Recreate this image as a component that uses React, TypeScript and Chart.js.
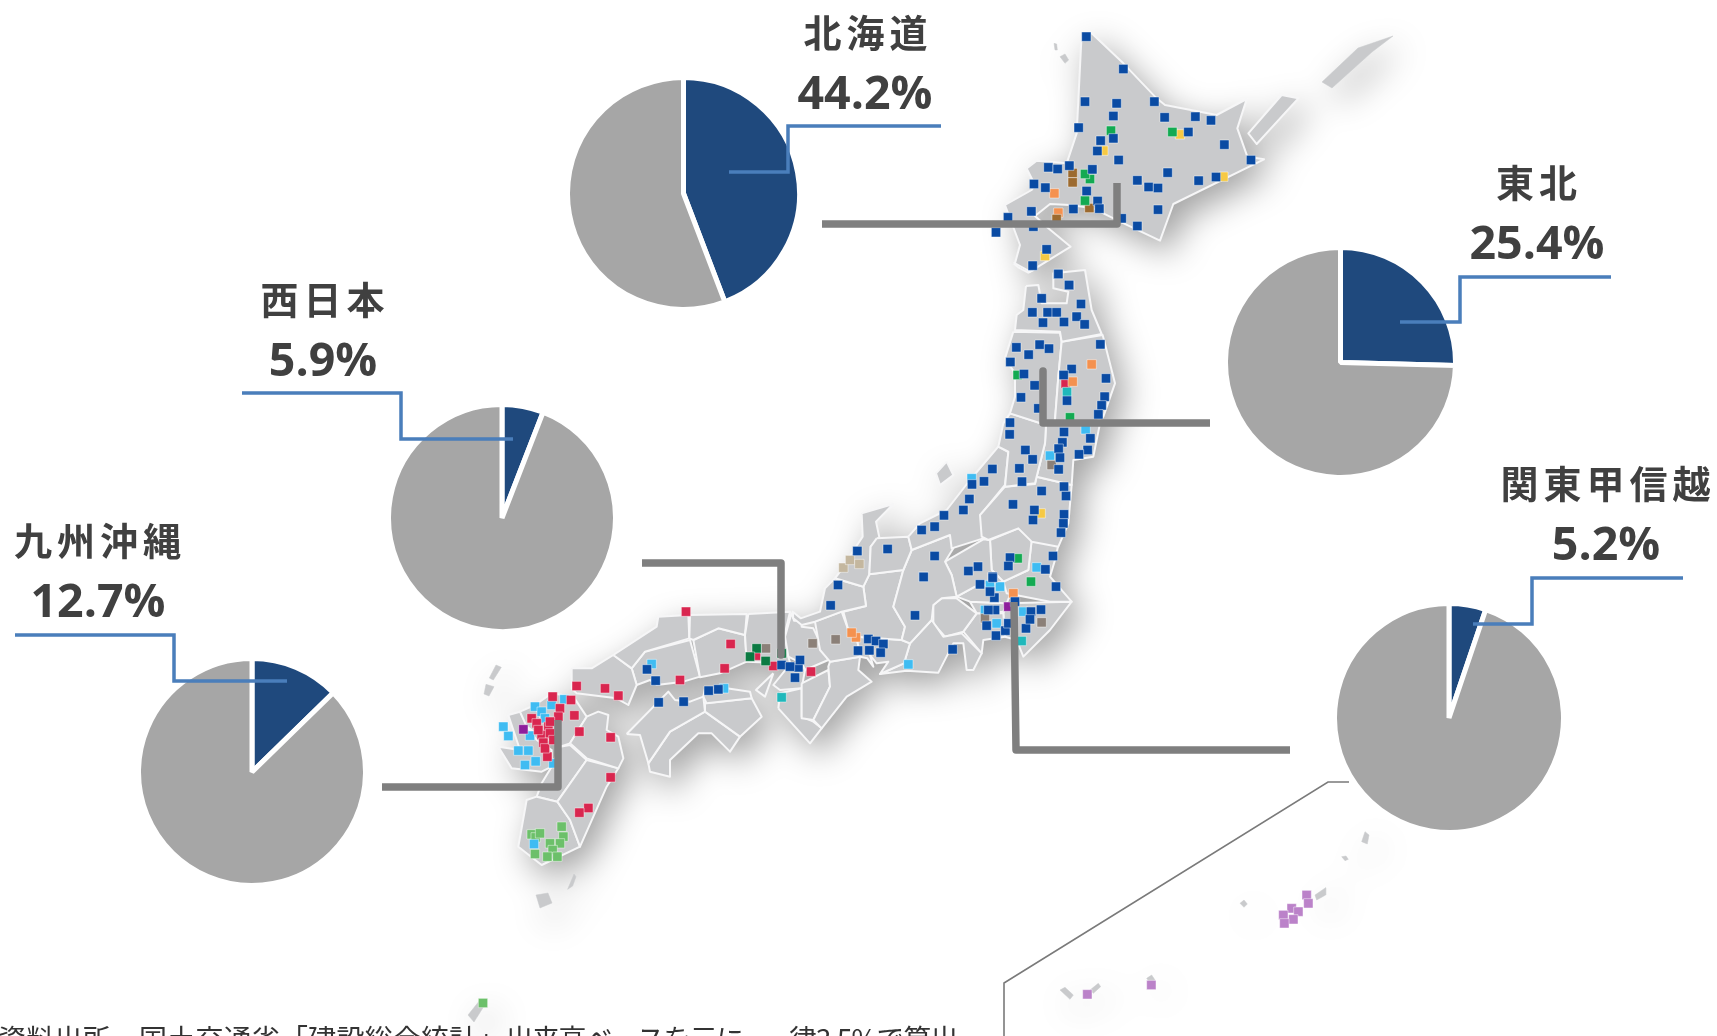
import React, { useEffect, useRef } from "react";
import { Chart, registerables } from "chart.js";
Chart.register(...registerables);

type P = [number, number];
const W = 1717, H = 1036;

// Pie data
const pieLabels = ["対象", "その他"];
const pieNames = ["北海道", "東北", "西日本", "九州沖縄", "関東甲信越"];
const pieShares = [44.2, 25.4, 5.9, 12.7, 5.2];
const pieCenters: P[] = [[683, 193], [1340, 362], [501.5, 518], [252, 771.5], [1449, 718]];
const pieHalfSizes = [118.5, 117.5, 116, 116, 117];
const labelSpots: P[] = [[868, 31], [1539, 181], [325, 298], [100, 539], [1608, 482]];
const valueSpots: P[] = [[865, 91], [1537, 241], [323, 358], [98, 599], [1606, 542]];
const footParts: [string, number][] = [
  ["資料出所　国土交通省「建設総合統計」", 0.2],
  ["出来高ベースを元に", -1.5],
  ["、", -9],
  ["一律3.5%で算出", -1],
];

const crop = (ox: number, oy: number, pts: P[]) => pts.map(([x, y]) => ({ x: ox + x / 3, y: oy + y / 3 }));
const A = (p: P[]) => crop(960, 0, p);
const B = (p: P[]) => crop(920, 260, p);
const C = (p: P[]) => crop(780, 480, p);
const D = (p: P[]) => crop(470, 590, p);
const E = (p: P[]) => crop(730, 590, p);
const F = (p: P[]) => crop(980, 760, p);
const Z = (p: P[]) => p.map(([x, y]) => ({ x, y }));

const regions = [
  A([[365,100],[395,100],[490,190],[590,295],[615,315],[770,345],[860,297],[832,385],[862,470],[912,478],[640,612],[600,722],[480,665],[400,625],[330,615],[270,612],[225,648],[265,685],[332,740],[210,815],[165,790],[180,735],[135,615],[215,570],[225,555],[200,505],[230,482],[320,490],[350,400]]),
  A([[965,285],[1015,295],[890,432],[865,400]]),
  B([[318,78],[355,75],[365,130],[440,130],[445,95],[400,85],[400,40],[495,30],[515,150],[545,222],[425,245],[420,215],[285,210],[290,165],[310,150]]),
  B([[280,10],[325,2],[340,30],[325,38],[295,22]]),
  B([[425,245],[548,225],[585,370],[550,470],[520,490],[378,495],[405,480],[415,350]]),
  B([[280,215],[420,218],[425,245],[415,350],[405,480],[378,495],[270,460],[285,410],[285,340],[255,295]]),
  B([[270,460],[378,495],[375,550],[345,670],[255,680],[265,575],[235,560],[250,490]]),
  B([[378,495],[540,490],[520,590],[460,600],[455,675],[350,650],[375,550]]),
  B([[255,680],[345,672],[350,650],[455,675],[445,790],[415,860],[335,845],[295,805],[205,840],[185,830],[180,765]]),
  B([[80,605],[100,645],[60,675],[48,640]]),
  C([[385,170],[420,130],[500,90],[570,0],[655,-100],[685,-84],[675,15],[605,100],[610,175],[515,205],[510,165],[395,210]]),
  C([[290,175],[385,170],[395,210],[370,270],[268,283],[272,200]]),
  C([[245,100],[340,72],[288,125],[298,172],[272,200],[268,283],[250,320],[165,295],[180,275],[225,205],[248,170]]),
  C([[165,295],[250,320],[258,378],[185,395],[105,425],[65,435],[40,415],[38,395],[62,415],[120,395],[135,325]]),
  C([[395,210],[510,165],[520,205],[495,245],[515,285],[530,350],[485,355],[460,375],[455,420],[390,490],[365,480],[375,440],[340,380],[370,270]]),
  C([[268,283],[370,270],[340,380],[375,440],[365,480],[230,470],[205,450],[190,395],[258,378],[250,320]]),
  C([[230,470],[365,480],[390,490],[372,550],[300,582],[325,545],[290,550],[270,525],[280,560],[262,535],[240,530]]),
  C([[390,490],[455,420],[490,470],[545,460],[605,520],[580,570],[560,570],[550,490],[520,490],[475,578],[380,572],[300,582],[372,550]]),
  C([[460,375],[485,355],[530,355],[590,400],[550,455],[495,470],[460,430]]),
  C([[495,245],[610,178],[630,180],[635,270],[670,305],[585,320],[530,350],[515,285]]),
  C([[630,180],[715,145],[755,180],[745,270],[670,305],[635,270]]),
  C([[755,180],[835,195],[825,240],[810,290],[875,365],[810,365],[680,340],[670,305],[745,270]]),
  C([[530,350],[585,320],[670,305],[690,345],[680,370],[570,365]]),
  C([[570,365],[680,370],[670,395],[610,400],[590,400]]),
  C([[590,400],[670,400],[675,470],[610,480],[605,520],[550,455]]),
  C([[680,370],[875,365],[810,450],[730,530],[710,480],[675,470],[670,400]]),
  C([[105,425],[185,395],[205,450],[230,470],[240,530],[150,545],[120,510]]),
  C([[135,470],[175,420],[165,510],[150,535]]),
  C([[240,530],[235,570],[275,605],[200,650],[125,745],[100,720],[150,620],[145,560],[150,545]]),
  C([[65,610],[145,570],[150,620],[100,720],[65,715]]),
  E([[145,355],[150,310],[215,295],[215,380],[250,395],[275,415],[240,460]]),
  E([[170,235],[215,220],[225,240],[215,295],[150,300],[130,285]]),
  E([[185,68],[192,92],[215,92],[215,110],[250,115],[295,210],[225,240],[215,220],[175,200],[165,140]]),
  E([[130,250],[105,320],[78,300]]),
  D([[835,72],[960,65],[945,130],[955,200],[965,235],[910,218],[830,215],[825,135]]),
  D([[660,75],[830,72],[825,135],[745,115],[670,150],[658,145]]),
  D([[670,150],[745,115],[825,135],[830,215],[750,250],[690,262]]),
  D([[430,195],[560,110],[565,80],[655,75],[658,145],[525,185],[485,235]]),
  D([[305,235],[365,235],[430,195],[485,235],[500,285],[475,345],[440,325],[320,310],[305,295]]),
  D([[485,235],[525,185],[660,150],[690,260],[640,275],[560,285],[540,270],[500,285]]),
  D([[470,432],[595,305],[615,330],[660,335],[700,320],[705,365],[600,425],[535,520],[510,435]]),
  D([[700,320],[705,295],[770,295],[840,305],[845,325],[710,340]]),
  D([[705,340],[845,325],[875,380],[810,440],[705,365]]),
  D([[535,520],[600,425],[705,365],[810,440],[780,485],[725,430],[685,430],[600,510],[600,560],[540,545]]),
  D([[300,460],[350,380],[385,365],[415,375],[410,420],[445,440],[460,505],[445,535],[350,505]]),
  D([[350,510],[445,535],[410,590],[330,770],[300,690],[262,635]]),
  D([[262,635],[300,690],[330,770],[215,825],[145,770],[170,630],[200,620]]),
  D([[300,465],[350,510],[262,635],[200,620],[215,580],[245,530],[270,470]]),
  D([[195,345],[245,310],[310,320],[350,380],[300,460],[270,470],[245,430],[210,380]]),
  D([[150,365],[195,345],[210,380],[245,430],[270,470],[200,430],[170,410]]),
  D([[115,375],[150,365],[175,415],[200,450],[245,480],[245,530],[215,545],[125,535],[85,470],[150,480]]),
];

const islets = [
  Z([[1322,82],[1358,48],[1393,36],[1372,52],[1332,88]]),
  A([[300,170],[315,162],[326,180],[315,190]]),
  A([[282,130],[290,132],[292,150],[285,150]]),
  D([[78,225],[94,232],[70,270],[58,264]]),
  D([[48,283],[72,290],[57,318],[42,312]]),
  D([[293,898],[312,852],[318,860],[308,888]]),
  Z([[536,895],[548,893],[552,903],[540,908]]),
  Z([[468,1015],[480,1000],[486,1003],[474,1022]]),
  F([[1005,405],[1037,383],[1037,405],[1010,420]]),
  F([[240,690],[255,682],[280,705],[270,718]]),
  F([[330,690],[355,670],[362,680],[340,700]]),
  F([[500,655],[515,645],[525,660],[510,668]]),
  F([[1145,245],[1155,215],[1167,225],[1162,252]]),
  F([[1085,290],[1098,288],[1105,298],[1095,302]]),
  F([[780,430],[792,420],[802,432],[792,442]]),
];

// Company markers, by colour
const bluePts = [
  ...A([[379,110],[490,207],[375,305],[470,310],[583,305],[460,348],[614,352],[706,350],[753,361],[356,383],[685,396],[422,422],[460,415],[793,434],[412,453],[476,480],[873,480],[265,502],[293,507],[328,497],[397,508],[623,518],[768,531],[532,541],[716,542],[222,552],[256,563],[566,561],[594,564],[380,573],[413,603],[340,627],[418,626],[214,634],[594,629],[144,652],[485,655],[532,678],[220,680],[108,697],[260,748],[218,797],[295,822],[328,856]]),
  ...B([[415,42],[447,75],[365,115],[483,132],[337,157],[383,157],[410,157],[470,170],[369,188],[432,186],[494,193],[541,253],[289,262],[359,254],[387,266],[326,284],[271,306],[455,327],[431,345],[312,342],[558,355],[344,376],[554,410],[303,412],[441,422],[545,436],[355,445],[535,463],[270,488],[432,516],[269,523],[427,547],[511,535],[316,570],[416,566],[503,570],[477,583],[420,593],[338,598],[298,625],[416,628],[217,627],[192,664],[156,673],[306,665],[432,680],[365,693],[438,708],[148,717],[279,733],[343,750],[130,750],[432,763],[72,766],[339,780],[430,790],[44,800],[5,810],[423,818],[44,888],[399,888],[270,893],[265,918],[145,933],[174,920],[376,928],[218,950],[10,950]]),
  ...C([[232,213],[323,207],[174,315],[152,376],[431,291],[405,406],[265,477],[288,483],[310,492],[234,512],[268,511],[302,518],[518,508],[638,293],[600,313],[643,353],[630,335],[645,390],[625,390],[620,437],[648,467],[676,452],[738,445],[753,395],[783,389],[750,418],[685,430],[705,365],[828,320],[5,555],[55,562],[45,593],[60,540],[30,560]]),
  ...D([[531,238],[557,272],[566,337],[641,335],[716,302],[745,298]]),
];
const redPts = [
  ...D([[648,65],[782,162],[858,197],[764,235],[630,270],[320,288],[405,295],[445,317],[248,320],[303,330],[270,355],[313,376],[265,380],[185,385],[200,400],[235,410],[215,435],[240,430],[328,425],[422,442],[220,458],[232,500],[422,562],[355,654],[328,668],[910,228],[240,395],[205,420],[225,475],[250,450]]),
  ...C([[93,575]]),
  ...B([[437,371]]),
];
const cyanPts = [
  ...D([[283,328],[195,350],[215,365],[245,345],[225,385],[100,410],[115,438],[180,437],[145,482],[175,482],[197,514],[165,525],[250,520],[192,762],[545,222],[762,295]]),
  ...C([[385,553],[650,430],[630,315],[660,320],[615,390],[730,395]]),
  ...B([[390,587],[155,655],[497,508],[350,922]]),
];
const greenPts = [
  ...A([[453,392],[637,396],[390,537],[375,522],[375,602]]),
  ...B([[450,472],[293,345],[293,895]]),
  ...C([[753,305]]),
];
const darkGreenPts = D([[860,175],[935,190],[840,200],[887,213]]);
const limePts = [
  ...D([[275,710],[185,733],[197,742],[280,740],[240,760],[270,760],[248,780],[195,792],[232,800],[262,800],[210,730]]),
  ...Z([[483,1003]]),
];
const orangePts = [
  ...A([[283,580],[295,638]]),
  ...B([[515,313],[458,365]]),
  ...C([[700,340],[228,472],[215,458]]),
];
const brownPts = A([[338,519],[338,547],[388,624],[290,657]]);
const yellowPts = [...A([[430,452],[660,403],[790,530],[255,768]]), ...B([[362,760]])];
const tanPts = C([[190,263],[210,240],[238,252]]);
const grayPts = [...C([[98,490],[167,478],[785,427],[615,415]]), ...D([[888,175]]), ...B([[395,615]])];
const tealPts = [...C([[725,483],[5,652]]), ...B([[441,396]])];
const purplePts = [...C([[685,380]]), ...D([[160,418]])];
const mauvePts = F([[980,405],[985,430],[935,445],[955,455],[910,465],[940,478],[913,490],[322,703],[514,675]]);

const markerGroups: [any[], string][] = [
  [limePts, "#6cc06a"], [mauvePts, "#bb82c9"], [cyanPts, "#3fbcf2"], [redPts, "#d9264f"],
  [tanPts, "#c4b79f"], [grayPts, "#8b8078"], [yellowPts, "#f6c944"], [orangePts, "#f4914f"],
  [brownPts, "#9c6a2f"], [tealPts, "#1fb8bb"], [purplePts, "#8e1f9c"], [greenPts, "#13aa52"],
  [darkGreenPts, "#0b7a42"], [bluePts, "#0a4ba3"],
];

// Connector and leader lines
const connectors: P[][] = [
  [[822, 224], [1117, 224], [1117, 183]],
  [[1043, 371], [1043, 423], [1210, 423]],
  [[642, 563], [781, 563], [781, 655]],
  [[1014, 602], [1016, 750], [1290, 750]],
  [[382, 787], [558, 787], [558, 720]],
];
const leaders: P[][] = [
  [[941, 126], [788, 126], [788, 172], [729, 172]],
  [[1611, 277], [1460, 277], [1460, 322], [1400, 322]],
  [[242, 393], [401, 393], [401, 439], [513, 439]],
  [[15, 635], [174, 635], [174, 681], [287, 681]],
  [[1683, 578], [1532, 578], [1532, 624], [1473, 624]],
];
const insetFrame: P[] = [[1349, 782], [1328, 782], [1004, 983], [1004, 1036]];

const xy = (p: P[]) => p.map(([x, y]) => ({ x, y }));
const pageScales = {
  x: { type: "linear", min: 0, max: W, display: false },
  y: { type: "linear", min: 0, max: H, reverse: true, display: false },
};
const baseOptions: any = {
  animation: false, responsive: false, devicePixelRatio: 1,
  layout: { padding: 0, autoPadding: false }, scales: pageScales,
  plugins: { legend: { display: false }, tooltip: { enabled: false } },
  events: [],
};

function App() {
  const mapRef = useRef<HTMLCanvasElement>(null);
  const markRef = useRef<HTMLCanvasElement>(null);
  const pieRefs = useRef<(HTMLCanvasElement | null)[]>([]);
  useEffect(() => {
    const charts: Chart[] = [];
    charts.push(new Chart(mapRef.current!, {
      type: "scatter",
      data: {
        datasets: [
          ...regions.map((pts) => ({
            data: [...pts, pts[0]], showLine: true, fill: "shape", tension: 0,
            backgroundColor: "#c9cacc", borderColor: "#f6f6f7", borderWidth: 2,
            borderJoinStyle: "round", pointRadius: 0, clip: false,
          })),
          ...islets.map((pts) => ({
            data: [...pts, pts[0]], showLine: true, fill: "shape", tension: 0,
            backgroundColor: "#c9cacc", borderColor: "#c9cacc", borderWidth: 0.5,
            pointRadius: 0, clip: false,
          })),
        ],
      } as any,
      options: baseOptions,
    }));
    charts.push(new Chart(markRef.current!, {
      type: "scatter",
      data: {
        datasets: [
          ...leaders.map((l) => ({
            data: xy(l), showLine: true, borderColor: "#4a7ebb", borderWidth: 3.5,
            pointRadius: 0, tension: 0, borderJoinStyle: "miter", order: 0,
          })),
          ...connectors.map((l) => ({
            data: xy(l), showLine: true, borderColor: "#7f7f7f", borderWidth: 7.5,
            pointRadius: 0, tension: 0, borderJoinStyle: "round", order: 1,
          })),
          {
            data: xy(insetFrame), showLine: true, borderColor: "#7a7a7a", borderWidth: 1.6,
            pointRadius: 0, tension: 0, order: 2,
          },
          ...markerGroups.map(([pts, color], i) => ({
            data: pts, showLine: false, pointStyle: "rect", pointRadius: 6.6, pointBorderWidth: 1,
            pointBackgroundColor: color, pointBorderColor: "rgba(255,255,255,0.45)",
            order: 3 + markerGroups.length - i,
          })),
        ],
      } as any,
      options: baseOptions,
    }));
    pieShares.forEach((share, i) => {
      charts.push(new Chart(pieRefs.current[i]!, {
        type: "pie",
        data: {
          labels: pieLabels,
          datasets: [{
            data: [share, 100 - share], backgroundColor: ["#1f497d", "#a6a6a6"],
            borderColor: "#ffffff", borderWidth: 5, hoverOffset: 0,
          }],
        },
        options: {
          animation: false, responsive: false, devicePixelRatio: 1, layout: { padding: 0 },
          plugins: { legend: { display: false }, tooltip: { enabled: false } }, events: [],
        },
      }));
    });
    return () => charts.forEach((c) => c.destroy());
  }, []);

  const layer: React.CSSProperties = { position: "absolute", left: 0, top: 0 };
  const textBase: React.CSSProperties = {
    position: "absolute", transform: "translate(-50%,-50%)", color: "#404040", whiteSpace: "nowrap", lineHeight: 1,
  };
  return (
    <div style={{ position: "fixed", left: 0, top: 0, width: W, height: H, overflow: "hidden", background: "#fff" }}>
      <canvas ref={mapRef} width={W} height={H}
        style={{ ...layer, filter: "blur(0.5px) drop-shadow(10px 12px 17px rgba(0,0,0,0.36))" }} />
      {pieShares.map((_, i) => (
        <canvas key={i} ref={(el) => { pieRefs.current[i] = el; }} width={pieHalfSizes[i] * 2} height={pieHalfSizes[i] * 2}
          style={{ position: "absolute", left: pieCenters[i][0] - pieHalfSizes[i], top: pieCenters[i][1] - pieHalfSizes[i] }} />
      ))}
      <canvas ref={markRef} width={W} height={H} style={{ ...layer, filter: "blur(0.5px)" }} />
      {pieNames.map((name, i) => (
        <React.Fragment key={name}>
          <div style={{ ...textBase, left: labelSpots[i][0], top: labelSpots[i][1], fontFamily: "'Noto Sans CJK JP'", fontWeight: 700, fontSize: 38, letterSpacing: 5 }}>{name}</div>
          <div style={{ ...textBase, left: valueSpots[i][0], top: valueSpots[i][1], fontFamily: "'Open Sans'", fontWeight: 700, fontSize: 46.5 }}>{pieShares[i].toFixed(1)}%</div>
        </React.Fragment>
      ))}
      <div style={{ position: "absolute", left: -2, top: 1024, fontFamily: "'Noto Sans CJK JP'", fontSize: 28, lineHeight: "28px", color: "#333", whiteSpace: "nowrap" }}>
        {footParts.map(([t, s]) => <span key={t} style={{ letterSpacing: s }}>{t}</span>)}
      </div>
    </div>
  );
}

export default App;
